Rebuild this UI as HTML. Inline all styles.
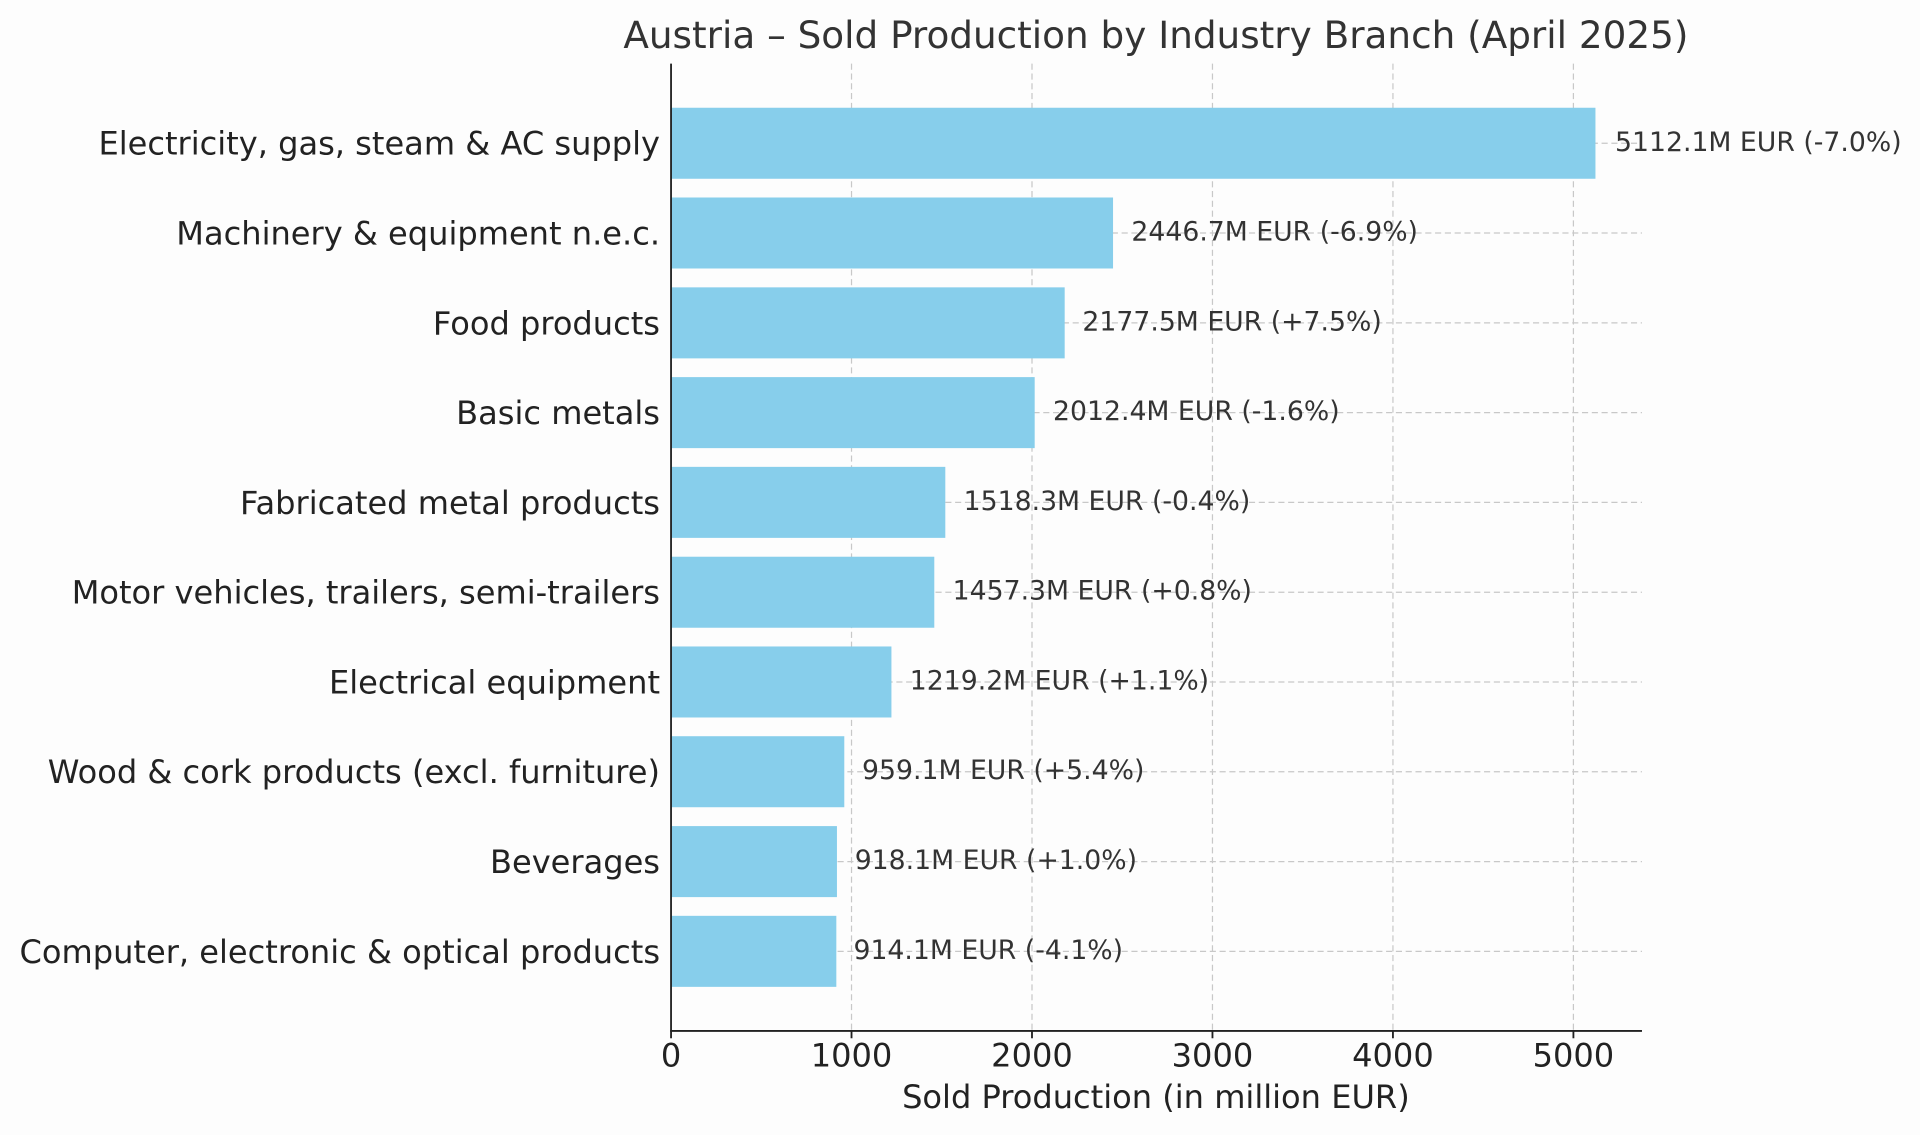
<!DOCTYPE html>
<html><head><meta charset="utf-8"><style>html,body{margin:0;padding:0;background:#fdfdfd}svg{display:block}</style></head>
<body>
<svg width="1920" height="1135" viewBox="0 0 1568 927" xmlns="http://www.w3.org/2000/svg" font-family="'DejaVu Sans','Liberation Sans',sans-serif">
<rect width="1568" height="927" fill="#fdfdfd"/>
<text x="944" y="39" font-size="30.5" text-anchor="middle" fill="#333">Austria – Sold Production by Industry Branch (April 2025)</text>
<g stroke="#c8c8c8" stroke-width="1" stroke-dasharray="5,3">
<line x1="695.4" y1="52" x2="695.4" y2="842"/><line x1="842.8" y1="52" x2="842.8" y2="842"/><line x1="990.2" y1="52" x2="990.2" y2="842"/><line x1="1137.6" y1="52" x2="1137.6" y2="842"/><line x1="1285" y1="52" x2="1285" y2="842"/>
<line x1="548" y1="117" x2="1341" y2="117"/><line x1="548" y1="190.3" x2="1341" y2="190.3"/><line x1="548" y1="263.7" x2="1341" y2="263.7"/><line x1="548" y1="337" x2="1341" y2="337"/><line x1="548" y1="410.3" x2="1341" y2="410.3"/><line x1="548" y1="483.7" x2="1341" y2="483.7"/><line x1="548" y1="557" x2="1341" y2="557"/><line x1="548" y1="630.3" x2="1341" y2="630.3"/><line x1="548" y1="703.7" x2="1341" y2="703.7"/><line x1="548" y1="777" x2="1341" y2="777"/>
</g>
<g fill="#87ceeb">
<rect x="548" y="88" width="755" height="58"/>
<rect x="548" y="161.3" width="361" height="58"/>
<rect x="548" y="234.7" width="321.5" height="58"/>
<rect x="548" y="308" width="297" height="58"/>
<rect x="548" y="381.3" width="224" height="58"/>
<rect x="548" y="454.7" width="215" height="58"/>
<rect x="548" y="528" width="180" height="58"/>
<rect x="548" y="601.3" width="141.5" height="58"/>
<rect x="548" y="674.7" width="135.5" height="58"/>
<rect x="548" y="748" width="135" height="58"/>
</g>
<g font-size="21.8" fill="#333" dominant-baseline="middle">
<text x="1319" y="117">5112.1M EUR (-7.0%)</text>
<text x="924" y="190.3">2446.7M EUR (-6.9%)</text>
<text x="884" y="263.7">2177.5M EUR (+7.5%)</text>
<text x="860" y="337">2012.4M EUR (-1.6%)</text>
<text x="787" y="410.3">1518.3M EUR (-0.4%)</text>
<text x="778" y="483.7">1457.3M EUR (+0.8%)</text>
<text x="743" y="557">1219.2M EUR (+1.1%)</text>
<text x="704" y="630.3">959.1M EUR (+5.4%)</text>
<text x="698" y="703.7">918.1M EUR (+1.0%)</text>
<text x="697" y="777">914.1M EUR (-4.1%)</text>
</g>
<g font-size="26.2" fill="#222" text-anchor="end" dominant-baseline="middle">
<text x="539" y="119">Electricity, gas, steam &amp; AC supply</text>
<text x="539" y="192.3">Machinery &amp; equipment n.e.c.</text>
<text x="539" y="265.7">Food products</text>
<text x="539" y="339">Basic metals</text>
<text x="539" y="412.3">Fabricated metal products</text>
<text x="539" y="485.7">Motor vehicles, trailers, semi-trailers</text>
<text x="539" y="559">Electrical equipment</text>
<text x="539" y="632.3">Wood &amp; cork products (excl. furniture)</text>
<text x="539" y="705.7">Beverages</text>
<text x="539" y="779">Computer, electronic &amp; optical products</text>
</g>
<g stroke="#222" stroke-width="1.5">
<line x1="548" y1="52" x2="548" y2="842.5"/><line x1="547.3" y1="842" x2="1341" y2="842"/>
<line x1="548" y1="842" x2="548" y2="848"/><line x1="695.4" y1="842" x2="695.4" y2="848"/><line x1="842.8" y1="842" x2="842.8" y2="848"/><line x1="990.2" y1="842" x2="990.2" y2="848"/><line x1="1137.6" y1="842" x2="1137.6" y2="848"/><line x1="1285" y1="842" x2="1285" y2="848"/>
</g>
<g font-size="26.2" fill="#222" text-anchor="middle">
<text x="548" y="871">0</text><text x="695.4" y="871">1000</text><text x="842.8" y="871">2000</text><text x="990.2" y="871">3000</text><text x="1137.6" y="871">4000</text><text x="1285" y="871">5000</text>
<text x="944" y="905">Sold Production (in million EUR)</text>
</g>
</svg>
</body></html>
